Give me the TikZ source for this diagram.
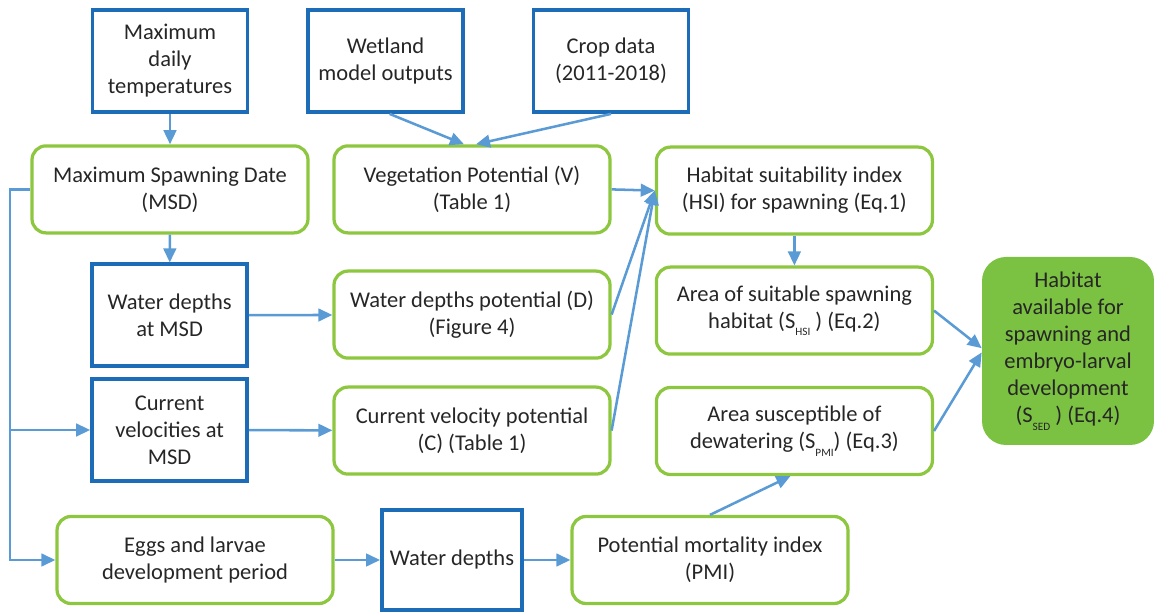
\documentclass[tikz,border=0pt]{standalone}
\usepackage{fontspec}
\setmainfont{Carlito}
\usetikzlibrary{arrows.meta}
\definecolor{boxblue}{RGB}{28,108,184}
\definecolor{arrblue}{RGB}{91,155,213}
\definecolor{boxgreen}{RGB}{141,198,63}
\definecolor{fillgreen}{RGB}{124,194,66}
\newcommand{\lowidx}[1]{\raisebox{-0.7ex}{\fontsize{8}{8}\selectfont #1}}
\begin{document}
\begin{tikzpicture}[every node/.style={align=center,font=\fontsize{16}{19.2}\selectfont,text=black!85},
				datab/.style={draw=boxblue,line width=2.7pt,minimum width=3.875cm,minimum height=2.55cm},
				procb/.style={draw=boxgreen,line width=2.3pt,rounded corners=0.35cm,minimum width=6.9cm,minimum height=2.175cm},
				flow/.style={draw=arrblue,line width=1.8pt,-{Triangle[length=10pt,width=9pt]}}]
\useasboundingbox (0,0) rectangle (28.85,15.325);
\node[datab] (temp) at (4.25,13.8) {Maximum\\daily\\temperatures};
\node[datab] (wetland) at (9.64,13.8) {Wetland\\model outputs};
\node[datab] (crop) at (15.275,13.8) {Crop data\\(2011-2018)};
\node[procb] (msd) at (4.25,10.59) {Maximum Spawning Date\\(MSD)};
\node[procb] (veg) at (11.8,10.59) {Vegetation Potential (V)\\(Table 1)};
\node[procb] (hsi) at (19.86,10.56) {Habitat suitability index\\(HSI) for spawning (Eq.1)};
\node[datab] (wdmsd) at (4.24,7.44) {Water depths\\at MSD};
\node[procb] (wdp) at (11.8,7.46) {Water depths potential (D)\\(Figure 4)};
\node[procb] (ass) at (19.86,7.56) {Area of suitable spawning\\habitat (S\lowidx{HSI} ) (Eq.2)};
\node[datab] (cvmsd) at (4.24,4.575) {Current\\velocities at\\MSD};
\node[procb] (cvp) at (11.8,4.56) {Current velocity potential\\(C) (Table 1)};
\node[procb] (asd) at (19.86,4.55) {Area susceptible of\\dewatering (S\lowidx{PMI}) (Eq.3)};
\node[fill=fillgreen,rounded corners=0.6cm,minimum width=4.3cm,minimum height=4.7cm] (final) at (26.7,6.55)
	{Habitat\\available for\\spawning and\\embryo-larval\\development\\(S\lowidx{SED} ) (Eq.4)};
\node[procb] (eggs) at (4.875,1.325) {Eggs and larvae\\development period};
\node[datab,minimum width=3.5cm,minimum height=2.5cm] (wd) at (11.3,1.325) {Water depths};
\node[procb] (pmi) at (17.75,1.325) {Potential mortality index\\(PMI)};
\coordinate (rail) at (0.25,10.59);
\draw[flow] (temp) -- (msd);
\draw[flow] ([xshift=0.1cm]wetland.south) -- ([xshift=-0.2cm]veg.north);
\draw[flow] (crop.south) -- ([xshift=0.1cm]veg.north);
\draw[flow] (veg.east) -- (hsi.west);
\draw[flow] (wdp.east) -- (hsi.west);
\draw[flow] (cvp.east) -- (hsi.west);
\draw[flow] (hsi) -- (ass);
\draw[flow] (ass.east) -- ([yshift=2pt]final.west);
\draw[flow] (asd.east) -- ([yshift=-1pt]final.west);
\draw[flow] (msd) -- (wdmsd);
\draw[flow] (wdmsd) -- (wdp);
\draw[flow] (cvmsd) -- (cvp);
\draw[flow] (msd.west) -- (rail) |- (eggs.west);
\draw[flow] (rail |- cvmsd.west) -- (cvmsd.west);
\draw[flow] (eggs) -- (wd);
\draw[flow] (wd) -- (pmi);
\draw[flow] (pmi.north) -- ([xshift=-0.1cm]asd.south);
\end{tikzpicture}
\end{document}
